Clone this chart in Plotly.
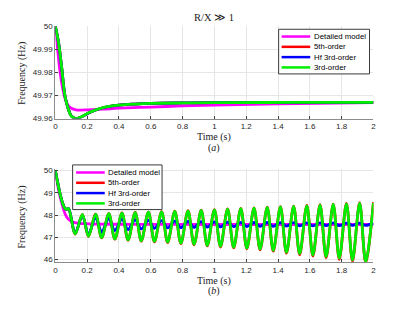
import plotly.graph_objects as go

# ---------------- data ----------------
# Panel (a): R/X >> 1
t_top_detailed = [0, 0.01, 0.02, 0.03, 0.045, 0.06, 0.08, 0.1, 0.13, 0.16, 0.2, 0.3, 0.4, 0.6, 0.8, 1.0, 1.4, 2.0]
f_top_detailed = [50.0, 49.993, 49.986, 49.980, 49.9735, 49.969, 49.9658, 49.9645, 49.9638, 49.9637,
                  49.9638, 49.9641, 49.9645, 49.9650, 49.9655, 49.9659, 49.9664, 49.9669]
t_top_reduced = [0, 0.02, 0.04, 0.06, 0.08, 0.1, 0.13, 0.16, 0.2, 0.25, 0.3, 0.4, 0.5, 0.6, 0.8, 1.0, 1.5, 2.0]
f_top_5th = [50.0, 49.993, 49.982, 49.970, 49.9645, 49.9612, 49.9600, 49.9606, 49.9621, 49.9636,
             49.9647, 49.9658, 49.9663, 49.9666, 49.9668, 49.9669, 49.9670, 49.9670]
f_top_hf3rd = [50.0, 49.993, 49.982, 49.970, 49.9645, 49.9612, 49.9600, 49.9606, 49.9621, 49.9636,
               49.9647, 49.9658, 49.9663, 49.9666, 49.9668, 49.9669, 49.9670, 49.9670]
f_top_3rd = [50.0, 49.993, 49.982, 49.970, 49.9645, 49.9611, 49.9600, 49.9607, 49.9622, 49.9637,
             49.9648, 49.9658, 49.9663, 49.9666, 49.9668, 49.9669, 49.9670, 49.9670]

# Panel (b)
t_bot_detailed = [0, 0.01, 0.02, 0.03, 0.04, 0.055, 0.07, 0.09, 0.11, 0.14, 0.18, 0.25, 0.5, 1.0, 1.5, 2.0]
f_bot_detailed = [50.0, 49.55, 49.15, 48.82, 48.55, 48.18, 47.93, 47.77, 47.69, 47.64, 47.62, 47.60,
                  47.59, 47.58, 47.58, 47.58]

# reduced models: start-up, then alternating trough / peak
t_bot_reduced = [0, 0.015, 0.03, 0.045, 0.058, 0.07, 0.083,
                 0.125, 0.170, 0.208, 0.253, 0.291, 0.336, 0.374, 0.419, 0.457, 0.502,
                 0.540, 0.585, 0.623, 0.668, 0.706, 0.751, 0.789, 0.834, 0.872, 0.917,
                 0.955, 1.000, 1.038, 1.083, 1.121, 1.166, 1.204, 1.249, 1.287, 1.332,
                 1.370, 1.415, 1.453, 1.498, 1.536, 1.581, 1.619, 1.664, 1.702, 1.747,
                 1.785, 1.830, 1.868, 1.913, 1.951, 2.000]
f_bot_3rd = [50.0, 49.45, 48.95, 48.55, 48.33, 48.26, 48.30,
             47.16, 48.03, 47.05, 48.05, 46.99, 48.07, 46.93, 48.09, 46.89, 48.11,
             46.85, 48.13, 46.82, 48.15, 46.79, 48.17, 46.74, 48.19, 46.69, 48.21,
             46.64, 48.24, 46.60, 48.27, 46.56, 48.29, 46.52, 48.32, 46.47, 48.35,
             46.42, 48.37, 46.33, 48.39, 46.27, 48.42, 46.21, 48.45, 46.14, 48.48,
             46.07, 48.51, 45.98, 48.54, 45.91, 48.55]
f_bot_5th = [50.0, 49.45, 48.95, 48.55, 48.33, 48.26, 48.30,
             47.15, 48.03, 47.04, 48.05, 46.98, 48.07, 46.92, 48.10, 46.87, 48.12,
             46.83, 48.14, 46.80, 48.16, 46.77, 48.18, 46.72, 48.20, 46.67, 48.22,
             46.62, 48.25, 46.57, 48.28, 46.53, 48.30, 46.49, 48.33, 46.44, 48.36,
             46.38, 48.38, 46.29, 48.41, 46.22, 48.44, 46.16, 48.47, 46.09, 48.50,
             46.01, 48.53, 45.93, 48.56, 45.86, 48.58]
f_bot_hf3rd = [50.0, 49.45, 48.95, 48.55, 48.33, 48.26, 48.30,
               47.20, 47.98, 47.13, 47.90, 47.24, 47.85, 47.31, 47.82, 47.35, 47.79,
               47.38, 47.77, 47.41, 47.75, 47.43, 47.73, 47.44, 47.72, 47.45, 47.71,
               47.46, 47.70, 47.47, 47.69, 47.48, 47.68, 47.49, 47.67, 47.50, 47.67,
               47.50, 47.66, 47.51, 47.66, 47.52, 47.65, 47.52, 47.65, 47.53, 47.65,
               47.53, 47.64, 47.54, 47.64, 47.54, 47.64]

series_names = ["Detailed model", "5th-order", "Hf 3rd-order", "3rd-order"]
series_colors = ["#ff00ff", "#ff0000", "#0000ff", "#00ee00"]
x_ticks = [0, 0.2, 0.4, 0.6, 0.8, 1, 1.2, 1.4, 1.6, 1.8, 2]
x_tick_text = ["0", "0.2", "0.4", "0.6", "0.8", "1", "1.2", "1.4", "1.6", "1.8", "2"]
y_ticks_top = [49.96, 49.97, 49.98, 49.99, 50.0]
y_tick_text_top = ["49.96", "49.97", "49.98", "49.99", "50"]
y_ticks_bot = [46, 47, 48, 49, 50]

# ---------------- figure ----------------
W, H = 415, 312
def px(x):
    return x / W
def py(y):
    return 1 - y / H

fig = go.Figure()
top_sets = [(t_top_detailed, f_top_detailed), (t_top_reduced, f_top_5th),
            (t_top_reduced, f_top_hf3rd), (t_top_reduced, f_top_3rd)]
bot_sets = [(t_bot_detailed, f_bot_detailed), (t_bot_reduced, f_bot_5th),
            (t_bot_reduced, f_bot_hf3rd), (t_bot_reduced, f_bot_3rd)]
for (tx, fy), name, col in zip(top_sets, series_names, series_colors):
    fig.add_trace(go.Scatter(x=tx, y=fy, mode="lines", name=name, showlegend=False,
                             line=dict(color=col, width=2.8, shape="spline", smoothing=1),
                             xaxis="x", yaxis="y"))
for (tx, fy), name, col in zip(bot_sets, series_names, series_colors):
    fig.add_trace(go.Scatter(x=tx, y=fy, mode="lines", name=name, showlegend=False,
                             line=dict(color=col, width=2.8, shape="spline", smoothing=0.9),
                             xaxis="x2", yaxis="y2"))

tickfont = dict(family="Liberation Sans, Arial, sans-serif", size=8, color="#262626")
axis_common = dict(showgrid=True, gridcolor="#e6e6e6", gridwidth=1, zeroline=False,
                   showline=True, linecolor="#8c8c8c", linewidth=1,
                   ticks="inside", ticklen=3, tickcolor="#404040", tickfont=tickfont)

xdom = [px(54), px(376)]
fig.update_layout(
    width=W, height=H, margin=dict(l=0, r=0, t=0, b=0),
    paper_bgcolor="white", plot_bgcolor="white", showlegend=False,
    xaxis=dict(domain=xdom, range=[0, 2], tickvals=x_ticks, ticktext=x_tick_text,
               anchor="y", **axis_common),
    yaxis=dict(domain=[py(118), py(23)], range=[49.96, 50.0], tickvals=y_ticks_top,
               ticktext=y_tick_text_top, anchor="x", **axis_common),
    xaxis2=dict(domain=xdom, range=[0, 2], tickvals=x_ticks, ticktext=x_tick_text,
                anchor="y2", **axis_common),
    yaxis2=dict(domain=[py(266), py(170)], range=[45.88, 50.07], tickvals=y_ticks_bot,
                anchor="x2", **axis_common),
)

serif = "Liberation Serif, Times New Roman, serif"
ann = []
def text(x, y, s, size=10, angle=0, xanchor="center", family=serif):
    ann.append(dict(x=px(x), y=py(y), xref="paper", yref="paper", text=s, showarrow=False,
                    xanchor=xanchor, yanchor="middle", textangle=angle,
                    font=dict(family=family, size=size, color="#1a1a1a")))
text(215, 14, "R/X ≫ 1", size=10.5)
text(215, 137, "Time (s)")
text(215, 148, "(<i>a</i>)")
text(215, 285, "Time (s)")
text(215, 296, "(<i>b</i>)")
text(20, 71, "Frequency (Hz)", angle=-90)
text(20, 219, "Frequency (Hz)", angle=-90)

shapes = []
def legend(box, line_x0, line_x1, text_x, rows):
    x0, y0, x1, y1 = box
    shapes.append(dict(type="rect", xref="paper", yref="paper", x0=px(x0), x1=px(x1),
                       y0=py(y1), y1=py(y0), line=dict(color="#3a3a3a", width=1),
                       fillcolor="white", layer="above"))
    for yrow, name, col in zip(rows, series_names, series_colors):
        shapes.append(dict(type="line", xref="paper", yref="paper", x0=px(line_x0), x1=px(line_x1),
                           y0=py(yrow), y1=py(yrow), line=dict(color=col, width=2.5), layer="above"))
        ann.append(dict(x=px(text_x), y=py(yrow), xref="paper", yref="paper", text=name,
                        showarrow=False, xanchor="left", yanchor="middle",
                        font=dict(family="Liberation Sans, Arial, sans-serif", size=7.8, color="black")))

legend((280, 26, 372, 72), 283, 312, 314, [33.5, 44.1, 54.7, 65.3])
legend((71.5, 165.7, 162, 211.7), 75, 104, 105.5, [173.5, 184.1, 194.7, 205.3])

fig.update_layout(annotations=ann, shapes=shapes)
fig.write_html("out.html", config={"displayModeBar": False},
               post_script="document.body.style.margin='0';document.body.style.padding='0';")
